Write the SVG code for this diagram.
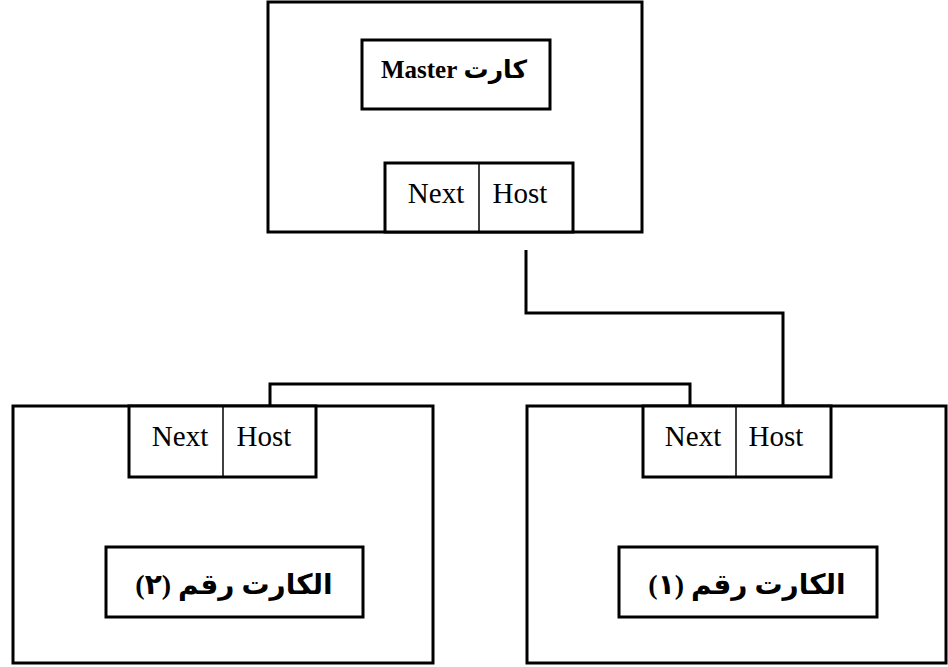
<svg xmlns="http://www.w3.org/2000/svg" width="948" height="667" viewBox="0 0 948 667">
<style>
.box{fill:#fff;stroke:#000;stroke-width:3}
.div{stroke:#000;stroke-width:1.5}
.lat{font-family:"Liberation Serif","Times New Roman",serif;font-size:29px;fill:#000}
.ar{font-family:"Liberation Serif","DejaVu Sans",sans-serif;font-weight:bold;fill:#000}
.conn{fill:none;stroke:#000;stroke-width:3}
</style>
<rect width="948" height="667" fill="#fff"/>
<g id="master">
<rect class="box" x="268" y="2" width="374" height="230"/>
<rect class="box" x="362" y="40" width="188" height="69"/>
<text class="ar" x="454" y="78" font-size="25" text-anchor="middle" direction="rtl">كارت Master</text>
<rect class="box" x="385" y="163" width="188" height="69"/>
<line class="div" x1="479" y1="163" x2="479" y2="232"/>
<text class="lat" x="436" y="203" text-anchor="middle">Next</text>
<text class="lat" x="520" y="203" text-anchor="middle">Host</text>
</g>
<g id="card2">
<rect class="box" x="13" y="406" width="420" height="257"/>
<rect class="box" x="129" y="406" width="187" height="71"/>
<line class="div" x1="223" y1="406" x2="223" y2="477"/>
<text class="lat" x="180" y="446" text-anchor="middle">Next</text>
<text class="lat" x="264" y="446" text-anchor="middle">Host</text>
<rect class="box" x="106" y="547" width="257" height="70"/>
<text class="ar" x="234" y="594" font-size="28" text-anchor="middle" direction="rtl">الكارت رقم (٢)</text>
</g>
<g id="card1">
<rect class="box" x="527" y="406" width="419" height="257"/>
<rect class="box" x="643" y="406" width="188" height="71"/>
<line class="div" x1="736" y1="406" x2="736" y2="477"/>
<text class="lat" x="693" y="446" text-anchor="middle">Next</text>
<text class="lat" x="776" y="446" text-anchor="middle">Host</text>
<rect class="box" x="619" y="547" width="258" height="70"/>
<text class="ar" x="747" y="594" font-size="28" text-anchor="middle" direction="rtl">الكارت رقم (١)</text>
</g>
<g id="connectors">
<path class="conn" d="M526,250 V313 H783 V406"/>
<path class="conn" d="M690,406 V384 H270 V406"/>
</g>
</svg>
